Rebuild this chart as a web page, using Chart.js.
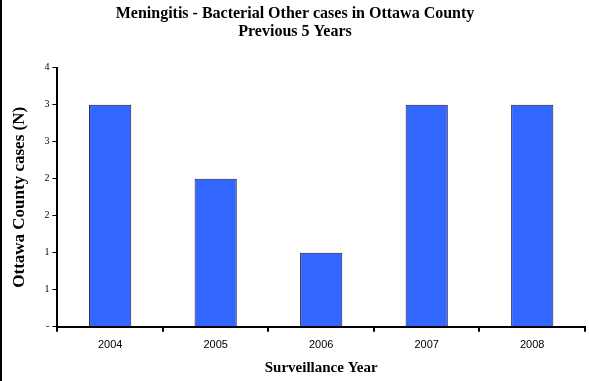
<!DOCTYPE html>
<html>
<head>
<meta charset="utf-8">
<script src="https://cdn.jsdelivr.net/npm/chart.js@4"></script>
<style>
  html, body { margin: 0; padding: 0; background: #fff; }
  #wrap { width: 587px; height: 381px; border-left: 2px solid #000; position: relative; }
</style>
</head>
<body>
<div id="wrap"><canvas id="chart"></canvas></div>
<script>
const years = ["2004", "2005", "2006", "2007", "2008"];
const cases = [3, 2, 1, 3, 3];
const titleLines = ["Meningitis - Bacterial Other cases in Ottawa County", "Previous 5 Years"];

const serif = "'Liberation Serif', 'Times New Roman', serif";
const sans = "'Liberation Sans', Arial, sans-serif";

new Chart(document.getElementById("chart"), {
  type: "bar",
  data: {
    labels: years,
    datasets: [
      {
        label: "Cases",
        data: cases,
        backgroundColor: "#3366ff",
        borderColor: "#1a1a40",
        borderWidth: 1,
        barPercentage: 0.4,
        categoryPercentage: 1,
      },
    ],
  },
  options: {
    responsive: true,
    maintainAspectRatio: false,
    animation: false,
    layout: { padding: { left: 3, right: 4, top: 3, bottom: 0 } },
    plugins: {
      legend: { display: false },
      tooltip: { enabled: false },
      title: {
        display: true,
        text: titleLines,
        color: "#000",
        font: { family: serif, size: 16, weight: "bold", lineHeight: 1.12 },
        padding: { top: 2, bottom: 27 },
      },
    },
    scales: {
      x: {
        grid: { drawOnChartArea: false, drawTicks: true, tickLength: 5, color: "#000", lineWidth: 2 },
        border: { color: "#000", width: 2 },
        ticks: { color: "#000", font: { family: sans, size: 11 }, padding: 7 },
        title: {
          display: true,
          text: "Surveillance Year",
          color: "#000",
          font: { family: serif, size: 15, weight: "bold" },
          padding: { top: 0 },
        },
      },
      y: {
        min: 0,
        max: 3.5,
        grid: { drawOnChartArea: false, drawTicks: true, tickLength: 5, color: "#000", lineWidth: 1 },
        border: { color: "#000", width: 2 },
        ticks: {
          stepSize: 0.5,
          color: "#000",
          font: { family: serif, size: 10 },
          padding: 3,
          callback: (value) => (value === 0 ? "-" : Math.round(value)),
        },
        title: {
          display: true,
          text: "Ottawa County cases (N)",
          color: "#000",
          font: { family: serif, size: 17, weight: "bold" },
          padding: { bottom: 12 },
        },
      },
    },
  },
});
</script>
</body>
</html>
